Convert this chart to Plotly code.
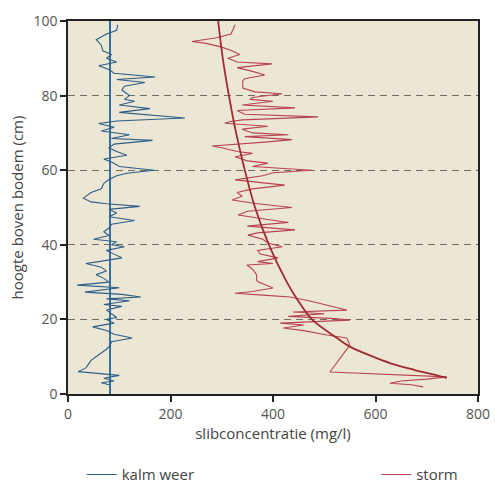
import plotly.graph_objects as go

# kalm weer (calm weather) measured profile: height (cm), concentration (mg/l)
calm_height = [99, 97.5, 96.5, 95, 93.5, 92, 91, 90, 89, 88, 87, 86, 85, 84.3, 83.5, 82.5, 81.5, 80.5, 80, 79,
               78.5, 77.5, 76.5, 75.5, 74, 73.2, 72.5, 71.5, 70.5, 69.5, 68.5, 68, 67, 66, 65, 64, 63, 62, 61, 60,
               59.2, 58.5, 57.5, 56.5, 55, 54, 52.5, 51.5, 51, 50.3, 49.5, 48.5, 47.5, 46.5, 45.5, 44.5, 43.5, 42.5,
               41.5, 40.8, 40, 39.5, 38.5, 37.5, 36.5, 35.5, 35, 34, 33, 32, 31, 30, 29.2, 28.5, 27.8, 27.3, 26.7,
               26, 25.5, 25, 24, 23.5, 22.5, 21.5, 20.5, 20, 19, 18, 17, 16, 15, 14, 13, 12, 11, 10, 9, 8, 7, 6,
               5.5, 5, 4.2, 3.5, 3, 2.5]
calm_conc = [97, 95, 75, 55, 65, 68, 85, 75, 95, 60, 80, 90, 170, 95, 150, 110, 105, 115, 120, 110,
             130, 100, 160, 100, 228, 95, 60, 90, 65, 120, 85, 165, 90, 80, 95, 115, 70, 88, 100, 168,
             115, 95, 80, 70, 65, 45, 30, 45, 75, 140, 80, 95, 80, 130, 85, 80, 70, 80,
             50, 95, 85, 110, 75, 90, 105, 60, 35, 65, 75, 55, 70, 80, 18, 100, 60, 33, 105,
             142, 75, 120, 70, 105, 75, 85, 95, 75, 90, 48, 75, 90, 125, 85, 82, 75, 65, 55, 45, 40, 35, 20,
             60, 100, 70, 90, 65, 80]

# storm measured profile
storm_height = [99, 97.5, 96.5, 95.5, 94.5, 94, 93, 92, 91, 90, 89, 88.5, 87.5, 86.5, 85.5, 84.5, 84, 82, 81,
                80.5, 79.5, 79, 78.5, 77.5, 76.7, 76, 75, 74.3, 73.5, 73, 72.6, 71.8, 71, 70, 69.5, 69, 68.2,
                67.6, 66.5, 66, 65, 64.5, 63.6, 62.5, 61.9, 61, 60, 59.3, 58.5, 57.4, 56, 55, 54, 53, 52, 51,
                50, 49, 48, 47, 46, 45, 44, 43.2, 42.6, 41.5, 40.5, 39.5, 38.5, 37.5, 36.5, 35.5, 35, 34.6,
                33.5, 32, 30.5, 30, 28.4, 27.5, 27, 26.5, 26, 25, 24, 22.5, 22, 21.5, 20.8, 20.2, 19.8, 19,
                18.5, 17.7, 17, 15.8, 15, 13.1, 5.9, 5.2, 4.6, 4, 3.5, 2.9, 2.5, 1.9]
storm_conc = [326, 322, 318, 290, 242, 270, 300, 320, 335, 312, 330, 398, 330, 360, 384, 345, 341, 341, 365,
              418, 360, 355, 400, 340, 443, 330, 345, 488, 340, 315, 306, 390, 340, 360, 430, 345, 437,
              390, 281, 300, 330, 360, 326, 350, 390, 360, 476, 400, 380, 326, 423, 360, 330, 340, 320, 370,
              437, 350, 332, 380, 430, 350, 443, 370, 351, 380, 390, 418, 370, 375, 410, 370, 400, 349,
              360, 368, 368, 372, 400, 360, 326, 380, 433, 470, 500, 544, 439, 500, 430, 520, 550, 414,
              460, 420, 460, 505, 544, 550, 511, 620, 739, 700, 650, 628, 670, 693]

# reference lines
calm_mean_height = [0, 100]
calm_mean_conc = [82, 82]
storm_fit_height = [100, 90, 80, 70, 60, 50, 40, 30, 25, 20, 15, 12.7, 10, 8.3, 6.5, 5, 4.3]
storm_fit_conc = [293, 302, 314, 328, 345, 365, 392, 427, 449, 476, 525, 550, 595, 628, 675, 720, 739]

x_ticks = [0, 200, 400, 600, 800]
y_ticks = [0, 20, 40, 60, 80, 100]

BLUE = "#2E5E86"
BLUE_LINE = "#21639A"
RED = "#B8444F"
RED_FIT = "#A12A33"

fig = go.Figure()
fig.add_trace(go.Scatter(x=calm_mean_conc, y=calm_mean_height, mode="lines",
                         line=dict(color=BLUE_LINE, width=1.8), showlegend=False, hoverinfo="skip"))
fig.add_trace(go.Scatter(x=calm_conc, y=calm_height, mode="lines", name="kalm weer",
                         line=dict(color=BLUE, width=1.1), legend="legend"))
fig.add_trace(go.Scatter(x=storm_conc, y=storm_height, mode="lines", name="storm",
                         line=dict(color=RED, width=1.1), legend="legend2"))
fig.add_trace(go.Scatter(x=storm_fit_conc, y=storm_fit_height, mode="lines", line_shape="spline",
                         line=dict(color=RED_FIT, width=1.8), showlegend=False, hoverinfo="skip"))

font_fam = "Open Sans, DejaVu Sans, sans-serif"
fig.update_layout(
    width=495, height=486,
    margin=dict(l=68, r=17, t=21, b=92, autoexpand=False),
    paper_bgcolor="white",
    plot_bgcolor="#ECE6D5",
    font=dict(family=font_fam, size=14, color="#555555"),
    xaxis=dict(range=[0, 800], tickvals=x_ticks, showgrid=False, zeroline=False, automargin=False,
               showline=True, linecolor="#222222", linewidth=1.5, mirror=True,
               ticks="outside", ticklen=6, tickwidth=1.5, tickcolor="#222222",
               tickfont=dict(size=14, color="#555555"),
               title=dict(text="slibconcentratie (mg/l)", font=dict(size=15, color="#444444"), standoff=7)),
    yaxis=dict(range=[0, 100], tickvals=y_ticks, showgrid=True, gridcolor="#6E6E66", automargin=False,
               gridwidth=1, griddash="7px,5px", zeroline=False,
               showline=True, linecolor="#222222", linewidth=1.5, mirror=True,
               ticks="outside", ticklen=6, tickwidth=1.5, tickcolor="#222222",
               tickfont=dict(size=14, color="#555555"),
               title=dict(text="hoogte boven bodem (cm)", font=dict(size=15, color="#444444"), standoff=6)),
    legend=dict(xref="container", yref="container", x=0.165, y=0.023, xanchor="left", yanchor="middle",
                orientation="h", bgcolor="rgba(0,0,0,0)", font=dict(size=15, color="#444444")),
    legend2=dict(xref="container", yref="container", x=0.76, y=0.023, xanchor="left", yanchor="middle",
                 orientation="h", bgcolor="rgba(0,0,0,0)", font=dict(size=15, color="#444444")),
)

fig.write_html("out.html")
